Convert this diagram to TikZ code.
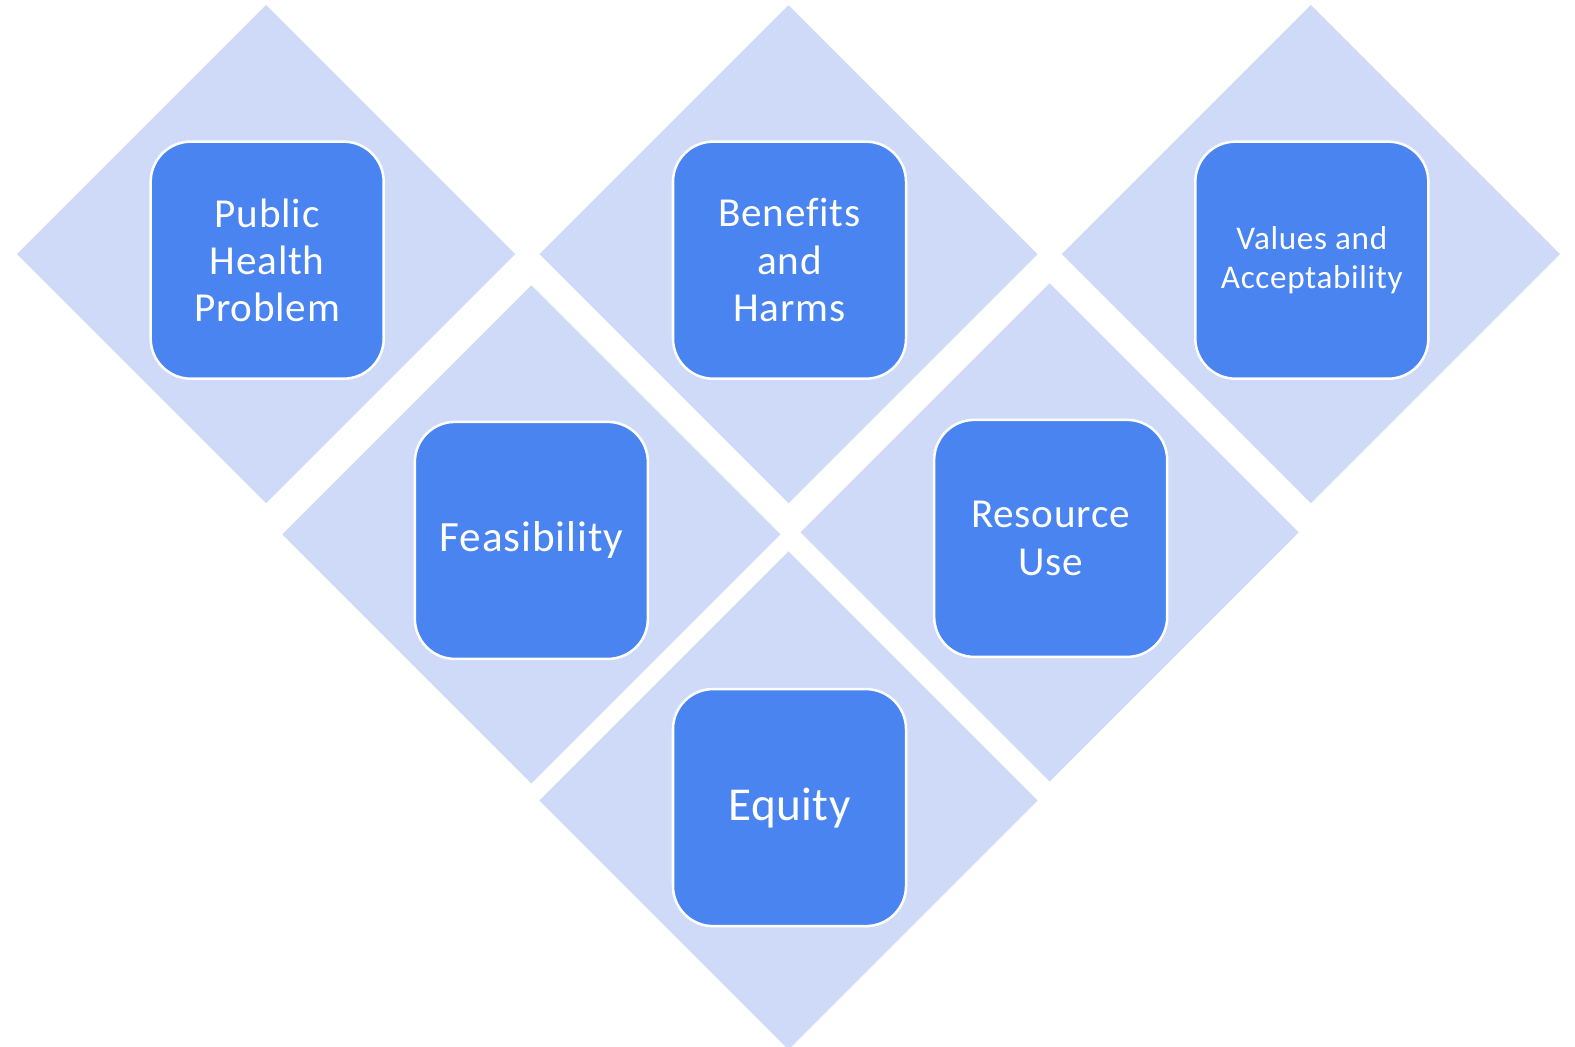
\documentclass[tikz,border=0pt]{standalone}
\usepackage{fontspec}
\setmainfont{Carlito}[Ligatures=NoCommon]
\definecolor{diam}{HTML}{CFDAF8}
\definecolor{boxc}{HTML}{4A84F0}
\begin{document}
\begin{tikzpicture}[x=1bp,y=-1bp,
  diamondshape/.style={fill=diam,draw=none},
  card/.style={rectangle,rounded corners=40bp,fill=boxc,draw=white,line width=2.5bp,
    minimum width=232bp,minimum height=236bp,inner sep=0pt,align=center,text=white,
    font=\fontsize{41bp}{47bp}\selectfont\addfontfeatures{LetterSpace=2}},
  feascard/.style={card,font=\fontsize{43bp}{47bp}\selectfont\addfontfeatures{LetterSpace=2}},
  smallcard/.style={card,font=\fontsize{33bp}{38bp}\selectfont\addfontfeatures{LetterSpace=2}},
  bigcard/.style={card,font=\fontsize{47bp}{54bp}\selectfont\addfontfeatures{LetterSpace=1}}]
\useasboundingbox (0,0) rectangle (1568,1042);
% diamonds
\foreach \cx/\cy in {265/253, 785/253, 1305/253, 529/532, 1045/530, 785/797}{
  \fill[diamondshape] (\cx-248,\cy) -- (\cx,\cy-248) -- (\cx+248,\cy) -- (\cx,\cy+248) -- cycle;
}
\node[card] (php) at (266,259) {Public\\Health\\Problem};
\node[card] (bh) at (786,259) {Benefits\\and\\Harms};
\node[smallcard] (va) at (1306,259) {Values and\\Acceptability};
\node[feascard] (fe) at (529,538) {Feasibility};
\node[card] (ru) at (1046,536) {Resource\\Use};
\node[bigcard] (eq) at (786,804) {Equity};
\end{tikzpicture}
\end{document}
